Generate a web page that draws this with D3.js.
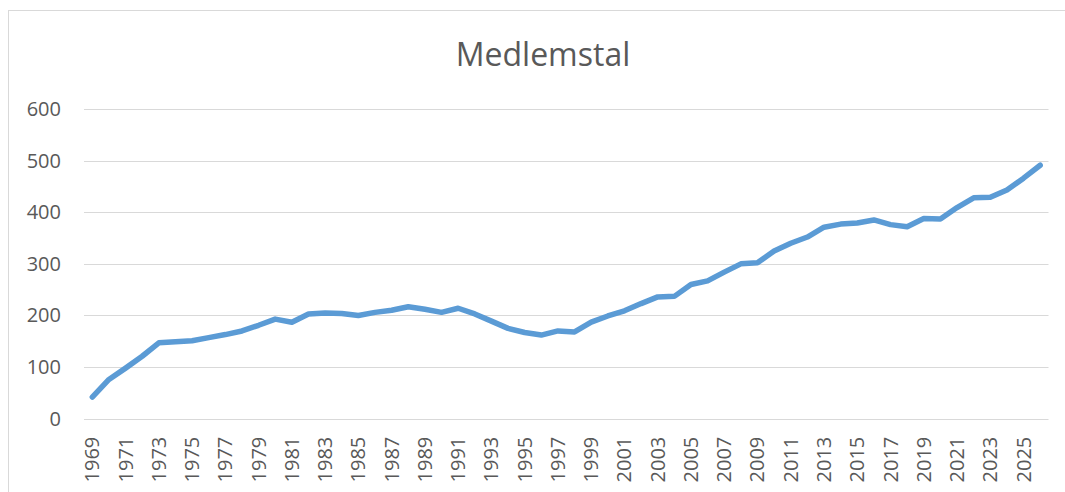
<!DOCTYPE html>
<html><head><meta charset="utf-8">
<script src="https://cdn.jsdelivr.net/npm/d3@7"></script>
<style>body{margin:0;background:#fff;} svg{display:block;}</style>
</head><body>
<svg id="chart" width="1065" height="492"></svg>
<script>
const years = d3.range(1969, 2027).map(String);
const members = [42, 76, 98, 121, 147, 149, 151, 157, 163, 170, 181, 193, 187, 203, 205,
  204, 200, 206, 210, 217, 212, 206, 214, 203, 189, 175, 167, 162, 170, 168,
  187, 199, 209, 223, 236, 237, 260, 267, 284, 300, 302, 325, 340, 352,
  371, 377, 379, 385, 376, 372, 388, 387, 409, 428, 429, 443, 466, 491];
const yTicks = [0, 100, 200, 300, 400, 500, 600];
const title = "Medlemstal";

const svg = d3.select("#chart");
const font = "'Open Sans', sans-serif";
const textColor = "#595959";

svg.append("rect").attr("x", 8.5).attr("y", 10.5).attr("width", 1080).attr("height", 500)
  .attr("fill", "none").attr("stroke", "#d9d9d9").attr("stroke-width", 1);

const pLeft = 84, pRight = 1048.5, pTop = 109, pBottom = 418.7;
const x = d3.scaleBand().domain(years).range([pLeft, pRight]);
const y = d3.scaleLinear().domain([0, 600]).range([pBottom, pTop]);

svg.append("text").attr("x", 543).attr("y", 66).attr("text-anchor", "middle")
  .attr("font-family", font).attr("font-size", 32).attr("fill", textColor).text(title);

// gridlines
svg.append("g").selectAll("line").data(yTicks).join("line")
  .attr("x1", pLeft).attr("x2", pRight)
  .attr("y1", d => Math.round(y(d)) + 0.5).attr("y2", d => Math.round(y(d)) + 0.5)
  .attr("stroke", "#d9d9d9").attr("stroke-width", 1.2);

// y axis labels
const yAxis = d3.axisLeft(y).tickValues(yTicks).tickSize(0).tickPadding(0);
const gy = svg.append("g").attr("transform", `translate(61,0)`).call(yAxis);
gy.select(".domain").remove();
gy.selectAll("text").attr("font-family", font).attr("font-size", 20).attr("fill", textColor);

// x axis labels
const xAxis = d3.axisBottom(x).tickValues(years.filter((d, i) => i % 2 === 0)).tickSize(0);
const gx = svg.append("g").attr("transform", `translate(0,${pBottom})`).call(xAxis);
gx.select(".domain").remove();
gx.selectAll("text")
  .attr("font-family", font).attr("font-size", 20).attr("fill", textColor)
  .attr("text-anchor", "end").attr("dy", "0.35em")
  .attr("transform", "translate(0,18) rotate(-90)").attr("y", 0).attr("x", 0);

// line
const line = d3.line().x((d, i) => x(years[i]) + x.bandwidth() / 2).y(d => y(d));
svg.append("path").datum(members).attr("d", line)
  .attr("fill", "none").attr("stroke", "#5B9BD5").attr("stroke-width", 5.5)
  .attr("stroke-linejoin", "round").attr("stroke-linecap", "round");
</script>
</body></html>
